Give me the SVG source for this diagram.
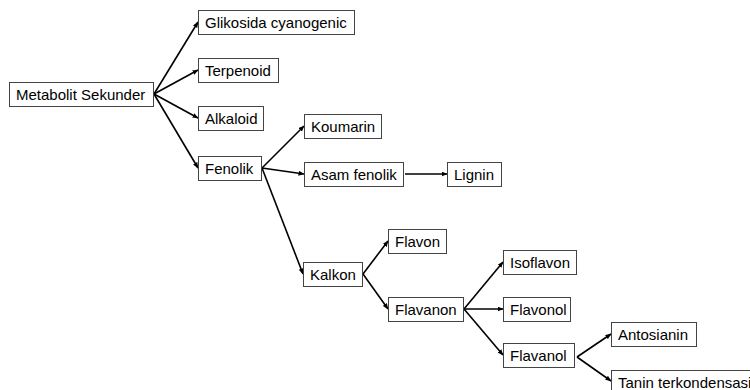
<svg xmlns="http://www.w3.org/2000/svg" width="750" height="390" viewBox="0 0 750 390">
<style>
.box{fill:#fff;stroke:#444;stroke-width:1}
.lbl{font-family:"Liberation Sans",Arial,sans-serif;font-size:15px;fill:#000}
.edge{stroke:#000;stroke-width:1.6;fill:none;marker-end:url(#ah)}
</style>
<defs>
<marker id="ah" markerWidth="6" markerHeight="5" refX="5.5" refY="2.5" orient="auto" markerUnits="userSpaceOnUse">
<path d="M0,0 L6,2.5 L0,5 Z" fill="#000"/>
</marker>
</defs>
<rect width="750" height="390" fill="#fff"/>
<g id="connectors">
<line class="edge" x1="154" y1="94" x2="198" y2="22"/>
<line class="edge" x1="154" y1="94" x2="198" y2="70"/>
<line class="edge" x1="154" y1="94" x2="198" y2="118"/>
<line class="edge" x1="154" y1="94" x2="198" y2="168"/>
<line class="edge" x1="262" y1="168" x2="304" y2="126"/>
<line class="edge" x1="262" y1="168" x2="304" y2="174"/>
<line class="edge" x1="262" y1="168" x2="303" y2="274"/>
<line class="edge" x1="405" y1="174" x2="447" y2="174"/>
<line class="edge" x1="363" y1="274" x2="388" y2="241"/>
<line class="edge" x1="363" y1="274" x2="388" y2="309"/>
<line class="edge" x1="464" y1="309" x2="503" y2="262"/>
<line class="edge" x1="464" y1="309" x2="503" y2="309"/>
<line class="edge" x1="464" y1="309" x2="503" y2="355"/>
<line class="edge" x1="577" y1="357" x2="611" y2="334"/>
<line class="edge" x1="577" y1="357" x2="611" y2="381"/>
</g>
<g id="n-metabolit"><rect class="box" x="9.5" y="82.5" width="144" height="24"/><text class="lbl" x="16" y="100">Metabolit Sekunder</text></g>
<g id="n-glikosida"><rect class="box" x="198.5" y="10.5" width="156" height="24"/><text class="lbl" x="205" y="28">Glikosida cyanogenic</text></g>
<g id="n-terpenoid"><rect class="box" x="198.5" y="58.5" width="80" height="24"/><text class="lbl" x="205" y="76">Terpenoid</text></g>
<g id="n-alkaloid"><rect class="box" x="198.5" y="106.5" width="65" height="24"/><text class="lbl" x="205" y="124">Alkaloid</text></g>
<g id="n-fenolik"><rect class="box" x="198.5" y="156.5" width="63" height="24"/><text class="lbl" x="205" y="174">Fenolik</text></g>
<g id="n-koumarin"><rect class="box" x="304.5" y="114.5" width="77" height="24"/><text class="lbl" x="311" y="132">Koumarin</text></g>
<g id="n-asam"><rect class="box" x="304.5" y="162.5" width="99" height="24"/><text class="lbl" x="311" y="180">Asam fenolik</text></g>
<g id="n-lignin"><rect class="box" x="447.5" y="162.5" width="54" height="24"/><text class="lbl" x="454" y="180">Lignin</text></g>
<g id="n-kalkon"><rect class="box" x="303.5" y="262.5" width="59" height="24"/><text class="lbl" x="310" y="280">Kalkon</text></g>
<g id="n-flavon"><rect class="box" x="388.5" y="229.5" width="58" height="24"/><text class="lbl" x="395" y="247">Flavon</text></g>
<g id="n-flavanon"><rect class="box" x="388.5" y="297.5" width="75" height="24"/><text class="lbl" x="395" y="315">Flavanon</text></g>
<g id="n-isoflavon"><rect class="box" x="503.5" y="250.5" width="73" height="24"/><text class="lbl" x="510" y="268">Isoflavon</text></g>
<g id="n-flavonol"><rect class="box" x="503.5" y="297.5" width="67" height="24"/><text class="lbl" x="510" y="315">Flavonol</text></g>
<g id="n-flavanol"><rect class="box" x="503.5" y="343.5" width="71" height="24"/><text class="lbl" x="510" y="361">Flavanol</text></g>
<g id="n-antosianin"><rect class="box" x="611.5" y="322.5" width="85" height="24"/><text class="lbl" x="618" y="340">Antosianin</text></g>
<g id="n-tanin"><rect class="box" x="611.5" y="370.5" width="149" height="24"/><text class="lbl" x="618" y="388">Tanin terkondensasi</text></g>
</svg>
